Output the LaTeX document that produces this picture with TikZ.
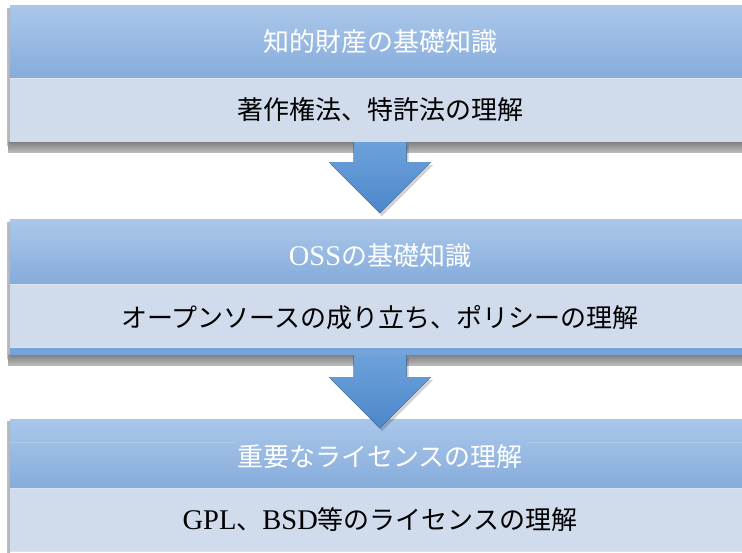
\documentclass[tikz,border=0pt]{standalone}
\usepackage{fontspec}
\setmainfont{Liberation Serif}
\newfontfamily\cjk{Noto Sans CJK JP}
\newfontfamily\latfont{Liberation Serif}
\newcommand{\lat}[1]{{\latfont\fontsize{28.5}{30}\selectfont #1}}
\usetikzlibrary{calc}
\definecolor{hdtop}{HTML}{AAC7EA}
\definecolor{hdbot}{HTML}{86ACDB}
\definecolor{bodyc}{HTML}{D0DBEB}
\definecolor{stripc}{HTML}{75A3DA}
\definecolor{arrtop}{HTML}{6CA1DA}
\definecolor{arrbot}{HTML}{4D87CB}
\definecolor{seamc}{HTML}{DCE5F2}
\tikzset{
  hdr/.style={rectangle, inner sep=0pt, minimum width=740pt,
    top color=hdtop, bottom color=hdbot, text=white,
    font=\fontsize{26}{30}\selectfont\cjk, text height=22pt, text depth=2pt},
  bodybox/.style={rectangle, inner sep=0pt, minimum width=740pt,
    fill=bodyc, text=black,
    font=\fontsize{26}{30}\selectfont\cjk, text height=22pt, text depth=2pt},
  stripbox/.style={rectangle, inner sep=0pt, minimum width=740pt, fill=stripc},
  blockshadow/.style={top color=black!45, bottom color=white, opacity=0.55},
  sideshadow/.style={left color=white, right color=black!15, opacity=0.45},
  arrowfill/.style={top color=arrtop, bottom color=arrbot},
  arrowshadow/.style={fill=black, opacity=0.18},
  seam/.style={draw=seamc, line width=0.8pt}
}
\begin{document}
\begin{tikzpicture}[x=1pt,y=1pt]
\useasboundingbox (0,0) rectangle (742,-553);
\clip (0,0) rectangle (742,-553);

% ---------- block 1 ----------
\fill[blockshadow] (8,-142) rectangle (752,-153);
\fill[sideshadow] (7,-8) rectangle (10,-146);
\node[hdr, minimum height=72pt] (h1) at (380,-42) {知的財産の基礎知識};
\node[bodybox, minimum height=64pt] (b1) at (380,-110) {著作権法、特許法の理解};
\draw[seam] (h1.south west) -- (h1.south east);

% ---------- block 2 ----------
\fill[blockshadow] (8,-355) rectangle (752,-366);
\fill[sideshadow] (7,-222) rectangle (10,-359);
\node[hdr, minimum height=64pt] (h2) at (380,-252) {\raisebox{-4pt}{\lat{OSS}の基礎知識}};
\node[bodybox, minimum height=64pt] (b2) at (380,-316) {\raisebox{-1.5pt}{オープンソースの成り立ち、ポリシーの理解}};
\node[stripbox, minimum height=7pt] (s2) at (380,-351.5) {};
\draw[seam] (h2.south west) -- (h2.south east);
\draw[seam] (s2.north west) -- (s2.north east);

% ---------- block 3 ----------
\fill[sideshadow] (7,-421) rectangle (10,-553);
\node[hdr, minimum height=69pt] (h3) at (380,-453.5) {\raisebox{-3pt}{重要なライセンスの理解}};
\node[bodybox, minimum height=63pt] (b3) at (380,-519.5) {\lat{GPL}、\lat{BSD}等のライセンスの理解};
\draw[seam] (h3.south west) -- (h3.south east);
\draw[seam] (b3.south west) -- (b3.south east);
\draw[white, opacity=0.18, line width=0.7pt]
  ($(h3.north west)+(0,-24)$) -- ($(h3.north west)+(225,-24)$)
  ($(h3.north east)+(-223,-24)$) -- ($(h3.north east)+(0,-24)$);

% ---------- arrow 1 ----------
\fill[arrowshadow] ($(b1.south)+(-24.5,-3)$) -- ++(0,-20) -- ++(-24.5,0)
  -- ($(b1.south)+(2,-74)$) -- ($(b1.south)+(53,-23)$)
  -- ($(b1.south)+(28.5,-23)$) -- ($(b1.south)+(28.5,-3)$) -- cycle;
\fill[arrowfill] ($(b1.south)+(-26.5,0)$) -- ($(b1.south)+(-26.5,-20)$)
  -- ($(b1.south)+(-51,-20)$) -- ($(b1.south)+(0,-71)$)
  -- ($(b1.south)+(51,-20)$) -- ($(b1.south)+(26.5,-20)$)
  -- ($(b1.south)+(26.5,0)$) -- cycle;

% ---------- arrow 2 ----------
\fill[arrowshadow] ($(s2.south)+(-24.5,-3)$) -- ++(0,-22) -- ++(-24.5,0)
  -- ($(s2.south)+(2,-76)$) -- ($(s2.south)+(53,-25)$)
  -- ($(s2.south)+(28.5,-25)$) -- ($(s2.south)+(28.5,-3)$) -- cycle;
\fill[arrowfill] ($(s2.south)+(-26.5,0)$) -- ($(s2.south)+(-26.5,-22)$)
  -- ($(s2.south)+(-51,-22)$) -- ($(s2.south)+(0,-73)$)
  -- ($(s2.south)+(51,-22)$) -- ($(s2.south)+(26.5,-22)$)
  -- ($(s2.south)+(26.5,0)$) -- cycle;
\end{tikzpicture}
\end{document}
